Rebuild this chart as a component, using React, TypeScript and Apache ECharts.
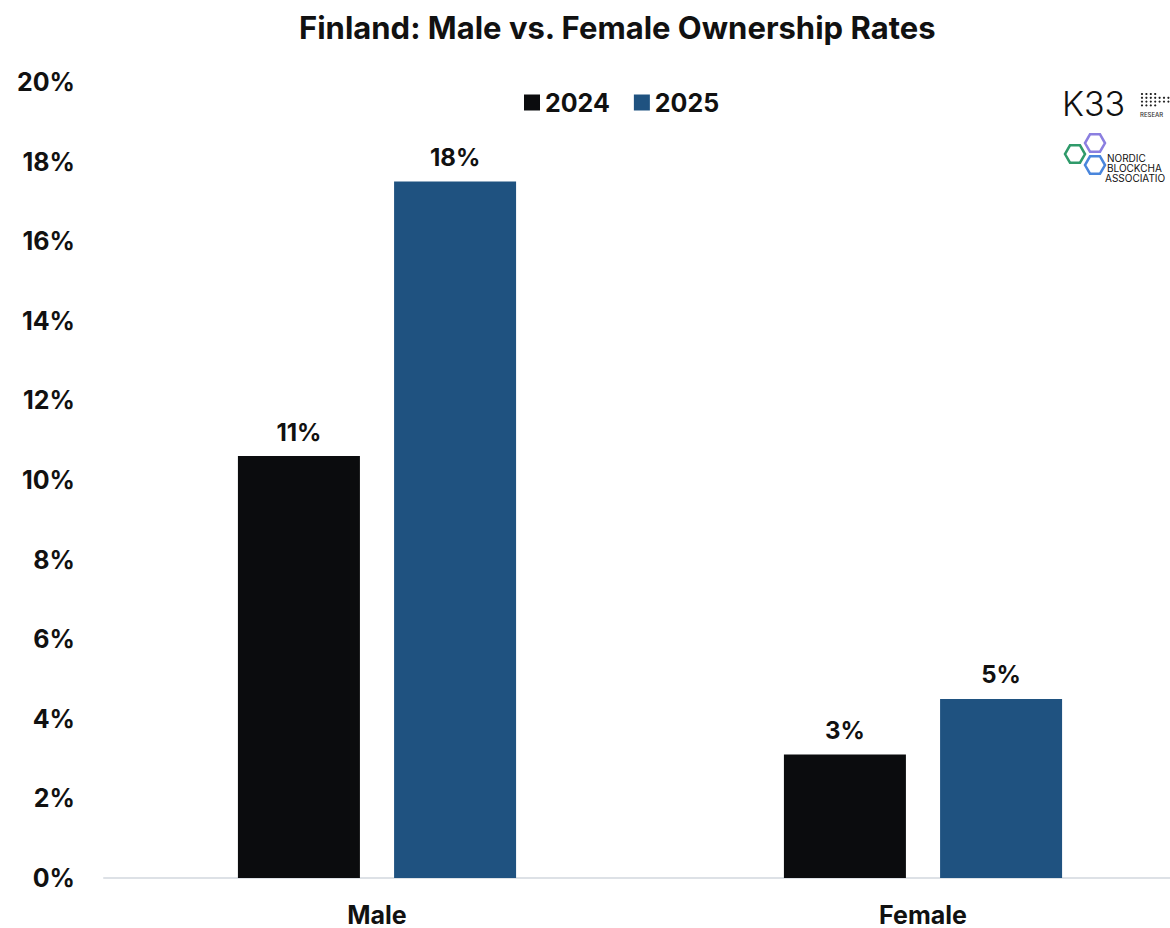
import React, { useEffect, useRef } from "react";
import * as echarts from "echarts";

const categories = ["Male", "Female"];
const years = ["2024", "2025"];
const values2024 = [10.6, 3.1];
const values2025 = [17.5, 4.5];
const colors = ["#0b0c0e", "#1f5280"];

const FONT = "Inter, 'Noto Sans', sans-serif";

function hexPoints(cx: number, cy: number, r: number): number[][] {
  const pts: number[][] = [];
  for (let i = 0; i < 6; i++) {
    const a = (Math.PI / 3) * i;
    pts.push([cx + r * Math.cos(a), cy + r * Math.sin(a)]);
  }
  return pts;
}

function logoGraphics(): any[] {
  const els: any[] = [];
  els.push({
    type: "text",
    left: 1062,
    top: 86,
    style: { text: "K33", font: `300 34px ${FONT}`, fill: "#111" },
  });
  for (let r = 0; r < 4; r++) {
    for (let c = 0; c < 7; c++) {
      if (c >= 4 && r !== 1 && r !== 2) continue;
      els.push({
        type: "circle",
        shape: { cx: 1142 + c * 4.4, cy: 94 + r * 3.8, r: 1.1 },
        style: { fill: "#222" },
      });
    }
  }
  els.push({
    type: "text",
    left: 1140,
    top: 111,
    style: { text: "RESEAR", font: `500 6px ${FONT}`, fill: "#333" },
  });
  const hexes: [number, number, string][] = [
    [1075, 154, "#2f9a6a"],
    [1095, 143, "#8b7fe0"],
    [1095, 165, "#4a86dc"],
  ];
  hexes.forEach(([cx, cy, col]) => {
    els.push({
      type: "polygon",
      shape: { points: hexPoints(cx, cy, 10) },
      style: { fill: "none", stroke: col, lineWidth: 2.5 },
    });
  });
  const lines = ["NORDIC", "BLOCKCHA", "ASSOCIATIO"];
  const xs = [1107, 1107, 1105];
  lines.forEach((t, i) => {
    els.push({
      type: "text",
      left: xs[i],
      top: 153 + i * 10,
      style: { text: t, font: `400 10px ${FONT}`, fill: "#111" },
    });
  });
  return els;
}

export default function App() {
  const ref = useRef<HTMLDivElement>(null);
  useEffect(() => {
    if (!ref.current) return;
    const chart = echarts.init(ref.current, undefined, { renderer: "svg" });
    const labelStyle = {
      show: true,
      position: "top",
      distance: 12,
      formatter: (p: any) => Math.round(p.value) + "%",
      color: "#111",
      fontFamily: FONT,
      fontWeight: 700,
      fontSize: 24,
    };
    chart.setOption({
      animation: false,
      backgroundColor: "#ffffff",
      title: {
        text: "Finland: Male vs. Female Ownership Rates",
        left: 294,
        top: 7,
        textStyle: { fontFamily: FONT, fontWeight: 700, fontSize: 31, color: "#111" },
      },
      legend: {
        data: years,
        left: 519,
        top: 85,
        itemWidth: 16,
        itemHeight: 16,
        itemGap: 24,
        icon: "rect",
        textStyle: { fontFamily: FONT, fontWeight: 700, fontSize: 25, color: "#111" },
      },
      grid: { left: 104, right: 0, top: 82, bottom: 50, containLabel: false },
      xAxis: {
        type: "category",
        data: categories,
        axisLine: { show: true, lineStyle: { color: "#dde1e6", width: 2 } },
        axisTick: { show: false },
        axisLabel: {
          margin: 24,
          fontFamily: FONT,
          fontWeight: 700,
          fontSize: 25,
          color: "#111",
        },
      },
      yAxis: {
        type: "value",
        min: 0,
        max: 20,
        interval: 2,
        splitLine: { show: false },
        axisLine: { show: false },
        axisTick: { show: false },
        axisLabel: {
          margin: 29,
          formatter: "{value}%",
          fontFamily: FONT,
          fontWeight: 700,
          fontSize: 25,
          color: "#111",
        },
      },
      series: [
        {
          name: years[0],
          type: "bar",
          data: values2024,
          barWidth: 122,
          barGap: "28%",
          itemStyle: { color: colors[0] },
          label: labelStyle,
        },
        {
          name: years[1],
          type: "bar",
          data: values2025,
          barWidth: 122,
          itemStyle: { color: colors[1] },
          label: labelStyle,
        },
      ],
      graphic: logoGraphics(),
    });
    return () => chart.dispose();
  }, []);
  return (
    <div style={{ position: "absolute", left: 0, top: 0, width: 1170, height: 928, overflow: "hidden" }}>
      <div ref={ref} style={{ width: 1196, height: 928 }} />
    </div>
  );
}
